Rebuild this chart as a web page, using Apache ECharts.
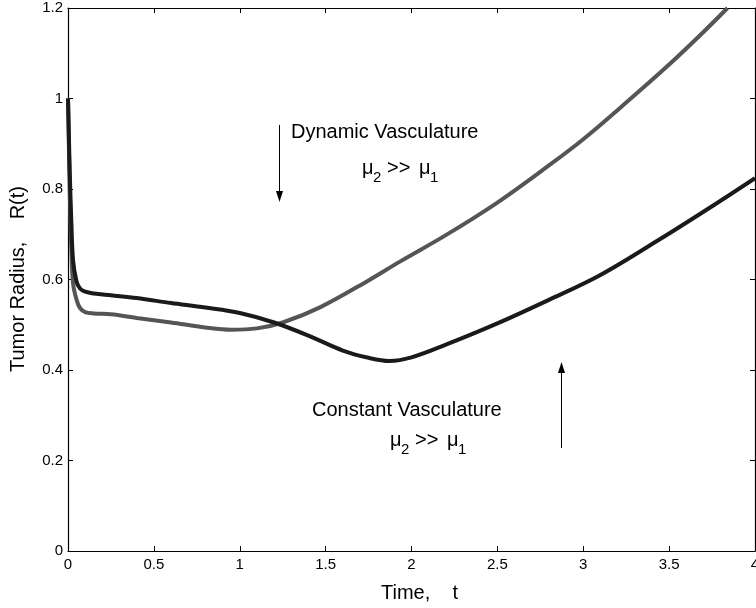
<!DOCTYPE html>
<html>
<head>
<meta charset="utf-8">
<script src="https://cdn.jsdelivr.net/npm/echarts@6/dist/echarts.min.js"></script>
<style>html,body{margin:0;padding:0;background:#fff}#c{width:756px;height:608px}</style>
</head>
<body>
<div id="c"></div>
<script>
// Constant vasculature (dark curve)
var tConstant = [0, 0.005, 0.01, 0.02, 0.03, 0.05, 0.07, 0.1, 0.15, 0.25, 0.4, 0.6, 0.8, 1.0, 1.2, 1.4, 1.6, 1.75, 1.87, 2.0, 2.2, 2.5, 2.8, 3.1, 3.45, 3.75, 4.0];
var rConstant = [1.0, 0.92, 0.84, 0.72, 0.64, 0.595, 0.58, 0.573, 0.569, 0.565, 0.559, 0.548, 0.538, 0.526, 0.505, 0.476, 0.443, 0.427, 0.42, 0.428, 0.456, 0.503, 0.555, 0.61, 0.69, 0.762, 0.824];
// Dynamic vasculature (grey curve)
var tDynamic = [0, 0.005, 0.01, 0.02, 0.03, 0.05, 0.07, 0.1, 0.15, 0.25, 0.4, 0.6, 0.8, 0.95, 1.1, 1.25, 1.47, 1.75, 1.93, 2.2, 2.5, 2.8, 3.0, 3.25, 3.5, 3.7, 3.84];
var rDynamic = [1.0, 0.9, 0.8, 0.66, 0.59, 0.555, 0.537, 0.528, 0.525, 0.523, 0.515, 0.505, 0.494, 0.489, 0.492, 0.505, 0.539, 0.598, 0.639, 0.698, 0.770, 0.852, 0.910, 0.991, 1.075, 1.147, 1.2];

var xTicks = [0, 0.5, 1, 1.5, 2, 2.5, 3, 3.5, 4];
var yTicks = [0, 0.2, 0.4, 0.6, 0.8, 1, 1.2];

function zip(a, b) { return a.map(function (v, i) { return [v, b[i]]; }); }

var FONT = 'Liberation Sans';
var chart = echarts.init(document.getElementById('c'), null, {renderer: 'canvas'});

var tickStyle = {inside: true, length: 5, lineStyle: {color: '#000', width: 1}};
var lineStyle = {color: '#000', width: 1.2};

function baseX(pos, show) {
  return {
    type: 'value', position: pos, min: 0, max: 4, interval: 0.5,
    axisLine: {show: true, onZero: false, lineStyle: lineStyle},
    axisTick: tickStyle, splitLine: {show: false},
    axisLabel: {show: show, color: '#000', fontFamily: FONT, fontSize: 15, margin: 6,
      formatter: function (v) { return String(v); }}
  };
}
function baseY(pos, show) {
  return {
    type: 'value', position: pos, min: 0, max: 1.2, interval: 0.2,
    axisLine: {show: true, onZero: false, lineStyle: lineStyle},
    axisTick: tickStyle, splitLine: {show: false},
    axisLabel: {show: show, color: '#000', fontFamily: FONT, fontSize: 15, margin: 5,
      formatter: function (v) { return String(+v.toFixed(1)); }}
  };
}

var xBottom = baseX('bottom', true);
var yLeft = baseY('left', true);

function txt(x, y, s, size) {
  return {type: 'text', left: x, top: y, silent: true,
    style: {text: s, fill: '#000', font: size + 'px "' + FONT + '"'}};
}
function muExpr(x, y) {
  return [
    txt(x, y, 'μ', 20),
    txt(x + 11, y + 12, '2', 15),
    txt(x + 25, y, '>>', 20),
    txt(x + 57, y, 'μ', 20),
    txt(x + 68, y + 12, '1', 15)
  ];
}

var graphics = [
  txt(291, 122, 'Dynamic Vasculature', 20),
  txt(312, 400, 'Constant Vasculature', 20),
  {type: 'text', silent: true, left: 381, top: 583,
    style: {text: 'Time,    t', fill: '#000', font: '20px "' + FONT + '"'}},
  {type: 'text', silent: true, x: 8, y: 372, rotation: Math.PI / 2,
    style: {text: 'Tumor Radius,    R(t)', fill: '#000', font: '20px "' + FONT + '"',
      align: 'left', verticalAlign: 'top'}},
  // down arrow
  {type: 'line', silent: true, shape: {x1: 279.5, y1: 125, x2: 279.5, y2: 194}, style: {stroke: '#000', lineWidth: 1}},
  {type: 'polygon', silent: true, shape: {points: [[276, 191], [283, 191], [279.5, 202]]}, style: {fill: '#000'}},
  // up arrow
  {type: 'line', silent: true, shape: {x1: 561.5, y1: 448, x2: 561.5, y2: 370}, style: {stroke: '#000', lineWidth: 1}},
  {type: 'polygon', silent: true, shape: {points: [[558, 373], [565, 373], [561.5, 362]]}, style: {fill: '#000'}}
].concat(muExpr(362, 158)).concat(muExpr(390, 430));

chart.setOption({
  backgroundColor: '#fff',
  animation: false,
  grid: {left: 68, right: 1, top: 8, bottom: 57, containLabel: false, outerBoundsMode: 'none'},
  xAxis: [xBottom, baseX('top', false)],
  yAxis: [yLeft, baseY('right', false)],
  series: [
    {type: 'line', name: 'Dynamic Vasculature', xAxisIndex: 0, yAxisIndex: 0,
      data: zip(tDynamic, rDynamic), showSymbol: false, smooth: 0.35,
      clip: true, lineStyle: {color: '#555555', width: 4}},
    {type: 'line', name: 'Constant Vasculature', xAxisIndex: 0, yAxisIndex: 0,
      data: zip(tConstant, rConstant), showSymbol: false, smooth: 0.35,
      clip: true, lineStyle: {color: '#1a1a1a', width: 4}}
  ],
  graphic: graphics
});
</script>
</body>
</html>
